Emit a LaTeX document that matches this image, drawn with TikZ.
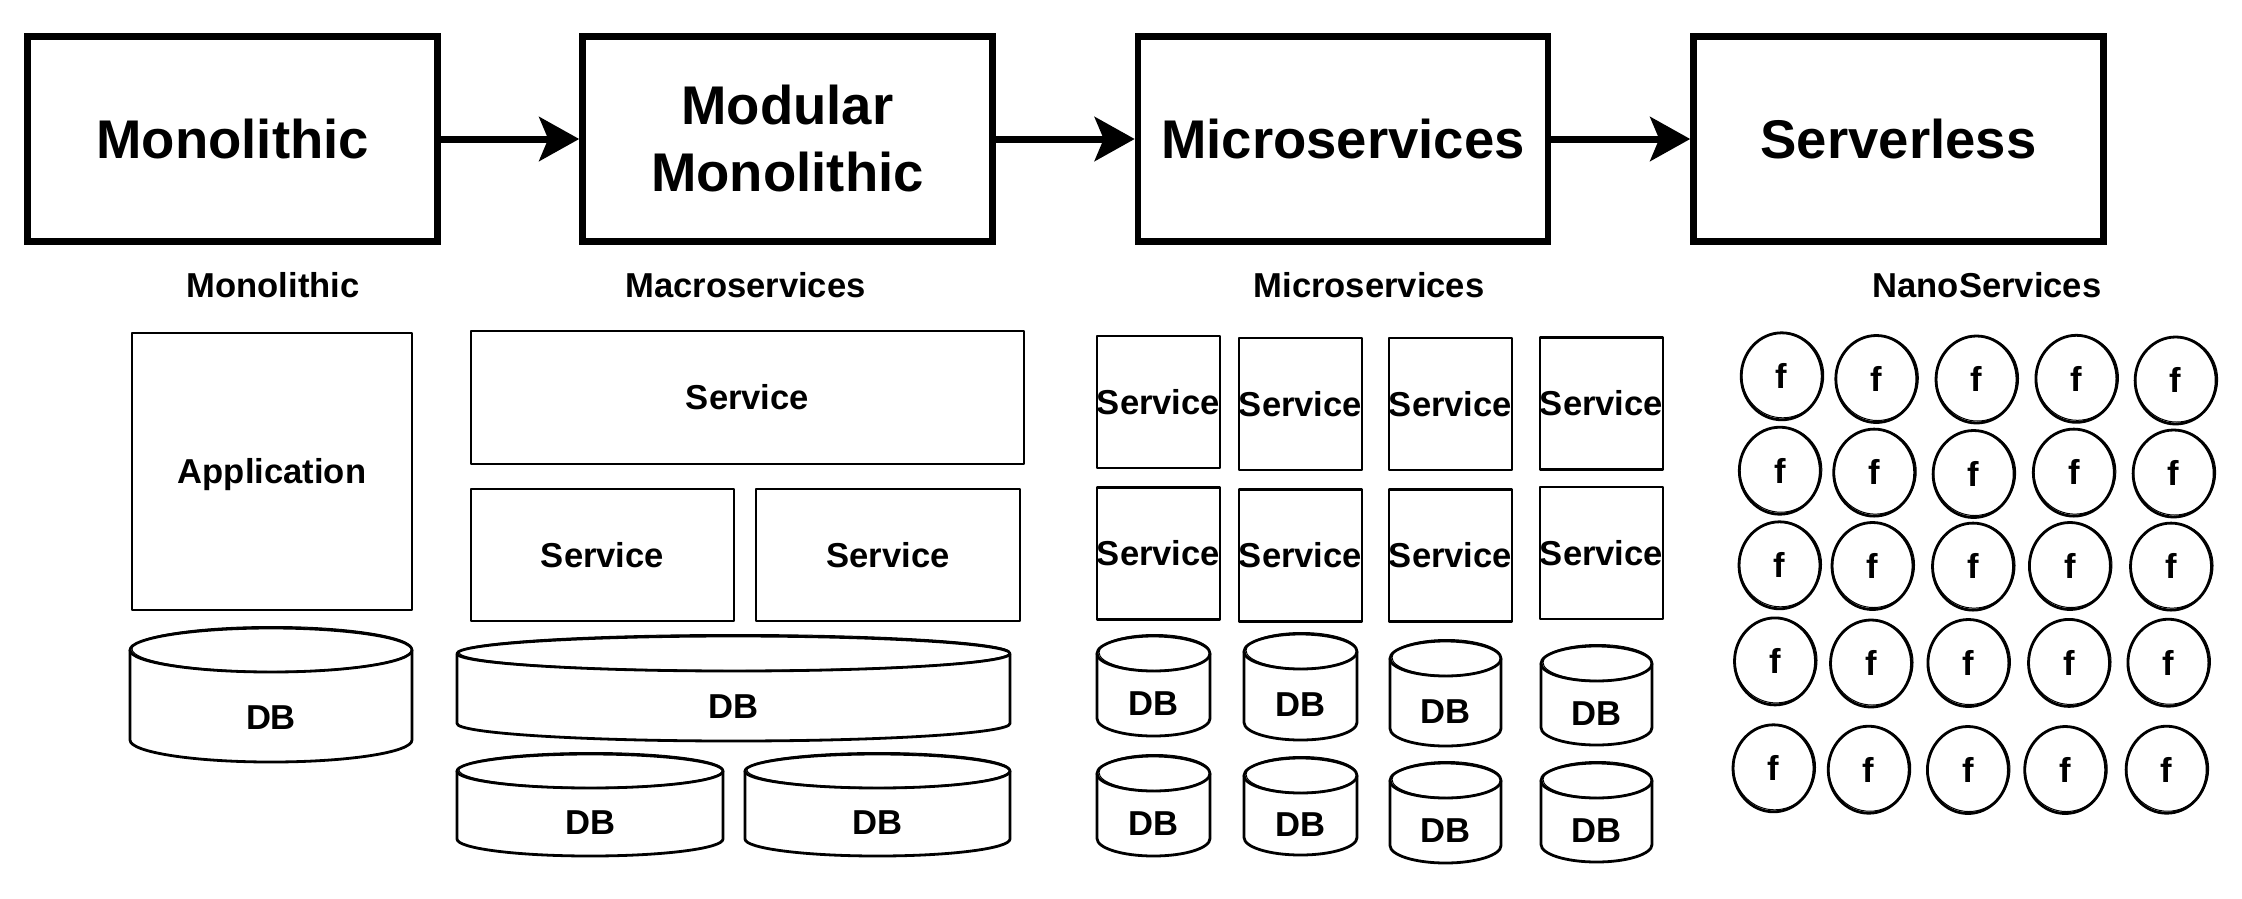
\documentclass[tikz,border=0pt]{standalone}
\usepackage{fontspec}
\setmainfont{Liberation Sans}
\usetikzlibrary{arrows.meta,shapes.geometric}
\newcommand\dbcyl[6]{%
  \pgfmathsetmacro\cylcx{(#2+#3)/2}%
  \pgfmathsetmacro\cylrx{(#3-#2)/2}%
  \draw[sk] (#2,#4+#6) -- (#2,#5-#6) arc[start angle=180,end angle=360,x radius=\cylrx pt,y radius=#6pt] -- (#3,#4+#6);
  \draw[sk] (\cylcx,#4+#6) ellipse[x radius=\cylrx pt,y radius=#6pt];
  \draw[skthin] (\cylcx+1,#4+#6-1) ellipse[x radius=\cylrx pt - 1pt,y radius=#6pt+0.5pt];
  \node[lbl] (#1) at (\cylcx,{(#4+2*#6+#5)/2}) {DB};
}
\begin{document}
\begin{tikzpicture}[x=1pt,y=-1pt,
  bigbox/.style={draw, line width=6.6pt, minimum width=410pt, minimum height=205pt, inner sep=0pt, align=center, font=\fontsize{54.5}{67}\selectfont\bfseries},
  flow/.style={line width=7pt, -{Stealth[length=40pt,width=44pt,inset=9pt]}},
  lbl/.style={inner sep=0pt, font=\fontsize{34.6}{40}\selectfont\bfseries, text height=24.6pt, text depth=0pt},
  sk/.style={draw, line width=2.8pt, line join=round},
  skthin/.style={draw, line width=1pt},
  box/.style={lbl, sk},
  fn/.style={lbl, sk, ellipse, minimum width=81pt, minimum height=87pt}
]
\fill[white] (0,0) rectangle (2242,898);
\useasboundingbox (0,0) rectangle (2242,898);

% top flow
\node[bigbox] (m1) at (232.75,139) {Monolithic};
\node[bigbox] (m2) at (787.5,139) {Modular\\Monolithic};
\node[bigbox] (m3) at (1343,139) {Microservices};
\node[bigbox] (m4) at (1898.5,139) {Serverless};
\draw[flow] (m1.east) -- (m2.west);
\draw[flow] (m2.east) -- (m3.west);
\draw[flow] (m3.east) -- (m4.west);

% column labels
\node[lbl] (l1) at (273,285) {Monolithic};
\node[lbl] (l2) at (745.5,285) {Macroservices};
\node[lbl] (l3) at (1369,285) {Microservices};
\node[lbl] (l4) at (1987,285) {NanoServices};

% monolithic
\node[box, minimum width=280pt, minimum height=277pt] (app) at (272,471.5) {Application};
\dbcyl{db0}{130}{412}{628}{762}{22}

% macroservices
\node[box, minimum width=553pt, minimum height=133pt] (ma1) at (747.5,397.5) {Service};
\node[box, minimum width=263pt, minimum height=132pt] (ma2) at (602.5,555) {Service};
\node[box, minimum width=264pt, minimum height=132pt] (ma3) at (888,555) {Service};
\dbcyl{dbm1}{457}{1010}{636}{741}{17.5}
\dbcyl{dbm2}{457}{723}{754}{856}{17}
\dbcyl{dbm3}{745}{1010}{754}{856}{17}

% microservices
\foreach \x/\y [count=\i] in {1158.5/402,1300.5/404,1450.5/404,1601.5/403.5,1158.5/553.5,1300.5/555.5,1450.5/555.5,1601.5/553}
  \node[box, minimum width=123pt, minimum height=132pt] (mi\i) at (\x,\y) {Service};
\dbcyl{dbu1}{1097}{1210}{636}{736}{17.5}
\dbcyl{dbu2}{1244}{1357}{634}{740}{17.5}
\dbcyl{dbu3}{1390}{1501}{641}{746}{17.5}
\dbcyl{dbu4}{1541}{1652}{646}{745}{17.5}
\dbcyl{dbu5}{1097}{1210}{756}{856}{17.5}
\dbcyl{dbu6}{1244}{1357}{758}{855}{17.5}
\dbcyl{dbu7}{1390}{1501}{763}{863}{17.5}
\dbcyl{dbu8}{1541}{1652}{763}{862}{17.5}

% nanoservices
\foreach \x/\y [count=\i] in {1781.7/376.3,1876.3/379,1976.5/379.5,2076.4/378.8,2175.6/380.5,
  1779.8/470.7,1874.2/472.6,1973.6/474,2073.8/472.6,2173.6/473.5,
  1779.5/565.3,1872.5/566,1973/566.6,2069.9/566,2171/566.6,
  1775/661.4,1871/663.5,1968.4/663,2069/662.9,2168.4/662.7,
  1773.5/768.3,1868.7/769.7,1967.9/770,2065.2/770,2166.6/769.7}
{
  \node[fn] (f\i) at (\x,\y) {f};
  \draw[skthin] ([shift={(1pt,1pt)}]f\i.center) ellipse[x radius=41pt,y radius=42.5pt];
}
\end{tikzpicture}
\end{document}
